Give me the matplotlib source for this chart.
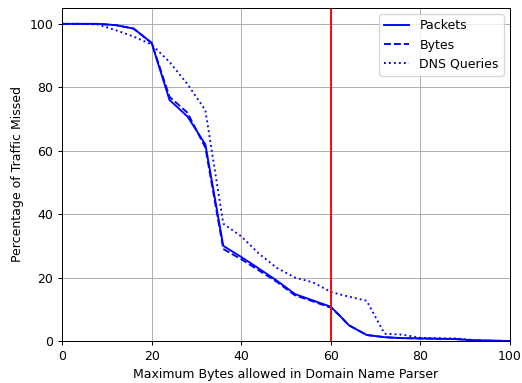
import matplotlib
matplotlib.use("Agg")
import matplotlib.pyplot as plt

x_vals = [0, 4, 8, 12, 16, 20, 24, 28, 32, 36, 40, 44, 48, 52, 56, 60, 62, 64, 68, 72, 76, 80, 84, 88, 92, 96, 100]
packets = [100, 100, 100, 99.6, 98.5, 94, 76, 70.8, 62, 30, 26.5, 22.8, 19, 14.8, 12.8, 10.8, 8, 5, 1.9, 1.2, 0.9, 0.8, 0.7, 0.6, 0.2, 0.1, 0]
bytes_ = [100, 100, 100, 99.6, 98.5, 94, 77, 72, 61, 29, 25.8, 22.2, 18.6, 14.4, 12.5, 10.5, 8, 5, 1.9, 1.2, 0.9, 0.8, 0.7, 0.6, 0.2, 0.1, 0]
dns = [100, 100, 99.8, 98, 96, 93.5, 88, 81, 72.8, 37, 33, 27.5, 23, 20, 18.5, 15.5, 14.7, 14, 12.7, 2.3, 2, 1, 0.9, 0.8, 0.3, 0.1, 0]
threshold = 60

DPI = 90
fig = plt.figure(figsize=(522/DPI, 383/DPI), dpi=DPI)
ax = fig.add_axes([62/522, 1-341/383, 448/522, 333/383])
ax.plot(x_vals, packets, color='blue', linestyle='-', linewidth=1.5, label='Packets')
ax.plot(x_vals, bytes_, color='blue', linestyle='--', linewidth=1.5, label='Bytes')
ax.plot(x_vals, dns, color='blue', linestyle=':', linewidth=1.5, label='DNS Queries')
ax.axvline(threshold, color='red', linewidth=1.5)
ax.set_xlim(0, 100)
ax.set_ylim(0, 105)
ax.set_xticks([0, 20, 40, 60, 80, 100])
ax.set_yticks([0, 20, 40, 60, 80, 100])
ax.grid(True, color='#b0b0b0', linewidth=0.8)
ax.set_axisbelow(True)
ax.set_xlabel('Maximum Bytes allowed in Domain Name Parser')
ax.set_ylabel('Percentage of Traffic Missed')
ax.legend(loc='upper right')
fig.savefig('out.png', dpi=DPI)
